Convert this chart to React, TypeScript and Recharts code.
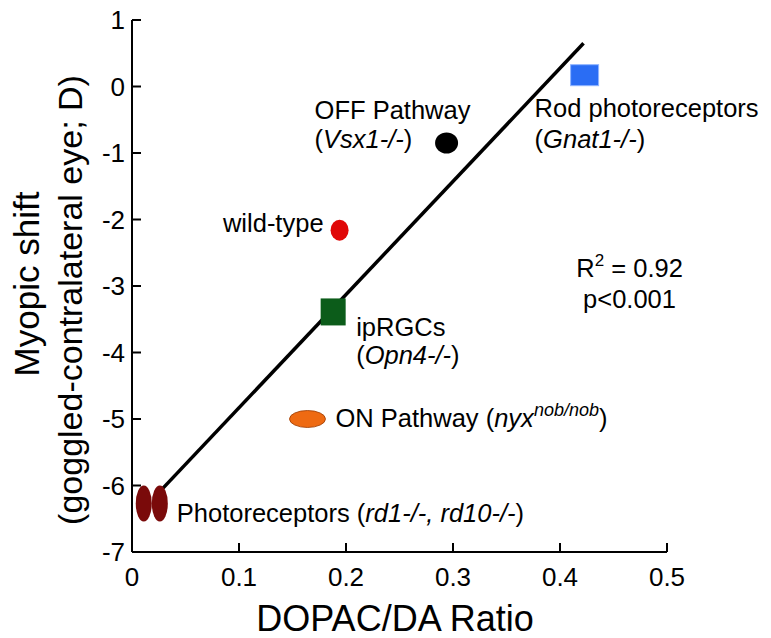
import React from "react"
import {
  ScatterChart,
  Scatter,
  XAxis,
  YAxis,
  ReferenceLine,
  ReferenceDot,
} from "recharts"

const xTicks = [0, 0.1, 0.2, 0.3, 0.4, 0.5]
const yTicks = [-7, -6, -5, -4, -3, -2, -1, 0, 1]

const rodPoints = [{ x: 0.423, y: 0.17 }]
const offPoints = [{ x: 0.294, y: -0.85 }]
const wildTypePoints = [{ x: 0.194, y: -2.16 }]
const iprgcPoints = [{ x: 0.188, y: -3.39 }]
const onPoints = [{ x: 0.164, y: -5.0 }]
const photoreceptorPoints = [
  { x: 0.011, y: -6.27 },
  { x: 0.026, y: -6.27 },
]
const fitLine = [
  { x: 0.029, y: -6.04 },
  { x: 0.422, y: 0.65 },
]
const statsAt = { x: 0.465, y: -2.95 }

const FONT = "'Liberation Sans', Arial, Helvetica, sans-serif"
const LABEL_SIZE = 25.5
const TICK_SIZE = 26

function XTick({ x, y, payload }: any) {
  return (
    <g>
      <line x1={x} y1={y} x2={x} y2={y - 9} stroke="#000" strokeWidth={2} />
      <text x={x} y={y + 34} textAnchor="middle" fontSize={TICK_SIZE} fontFamily={FONT} fill="#000">
        {payload.value}
      </text>
    </g>
  )
}

function YTick({ x, y, payload }: any) {
  return (
    <g>
      <line x1={x} y1={y} x2={x + 9} y2={y} stroke="#000" strokeWidth={2} />
      <text x={x - 7} y={y + 9} textAnchor="end" fontSize={TICK_SIZE} fontFamily={FONT} fill="#000">
        {payload.value}
      </text>
    </g>
  )
}

const txt = (x: number, y: number, children: React.ReactNode, anchor = "start") => (
  <text x={x} y={y} fontSize={LABEL_SIZE} fontFamily={FONT} fill="#000" textAnchor={anchor}>
    {children}
  </text>
)

function RodShape({ cx, cy }: any) {
  return (
    <g>
      <rect x={cx - 14} y={cy - 10.5} width={28} height={21} fill="#2a6df4" stroke="#8fb4ff" strokeWidth={1} />
      {txt(cx - 50, cy + 42, "Rod photoreceptors")}
      {txt(cx - 50, cy + 73, <>(<tspan fontStyle="italic">Gnat1-/-</tspan>)</>)}
    </g>
  )
}

function OffShape({ cx, cy }: any) {
  return (
    <g>
      <ellipse cx={cx} cy={cy} rx={11.5} ry={10.5} fill="#000" />
      {txt(cx - 132, cy - 24, "OFF Pathway")}
      {txt(cx - 132, cy + 5, <>(<tspan fontStyle="italic">Vsx1-/-</tspan>)</>)}
    </g>
  )
}

function WildTypeShape({ cx, cy }: any) {
  return (
    <g>
      <ellipse cx={cx} cy={cy} rx={9} ry={10.5} fill="#e00808" />
      {txt(cx - 16, cy + 2, "wild-type", "end")}
    </g>
  )
}

function IprgcShape({ cx, cy }: any) {
  return (
    <g>
      <rect x={cx - 12.5} y={cy - 13.5} width={25} height={27} fill="#0c5c1a" />
      {txt(cx + 23, cy + 24, "ipRGCs")}
      {txt(cx + 23, cy + 52, <>(<tspan fontStyle="italic">Opn4-/-</tspan>)</>)}
    </g>
  )
}

function OnShape({ cx, cy }: any) {
  return (
    <g>
      <ellipse cx={cx} cy={cy} rx={18} ry={8.5} fill="#ee6a12" stroke="#9a3a00" strokeWidth={0.8} />
      {txt(
        cx + 28,
        cy + 8,
        <>
          ON Pathway (<tspan fontStyle="italic">nyx</tspan>
          <tspan fontStyle="italic" fontSize={18} dy={-11}>nob/nob</tspan>
          <tspan dy={11}>)</tspan>
        </>
      )}
    </g>
  )
}

function PhotoreceptorShape({ cx, cy, index }: any) {
  return (
    <g>
      <ellipse cx={cx} cy={cy} rx={8} ry={18} fill="#7a0a0a" />
      {index === photoreceptorPoints.length - 1 &&
        txt(
          cx + 17,
          cy + 19,
          <>
            Photoreceptors (<tspan fontStyle="italic">rd1-/-, rd10-/-</tspan>)
          </>
        )}
    </g>
  )
}

function StatsLabel({ cx, cy }: any) {
  return (
    <g>
      <text x={cx} y={cy - 6} fontSize={LABEL_SIZE} fontFamily={FONT} textAnchor="middle" fill="#000">
        R<tspan fontSize={17} dy={-11}>2</tspan>
        <tspan dy={11}> = 0.92</tspan>
      </text>
      <text x={cx} y={cy + 25} fontSize={LABEL_SIZE} fontFamily={FONT} textAnchor="middle" fill="#000">
        p&lt;0.001
      </text>
    </g>
  )
}

const xTitle = () => (
  <text x={395} y={631} textAnchor="middle" fontSize={36} fontFamily={FONT} fill="#000">
    DOPAC/DA Ratio
  </text>
)

const yTitle = () => (
  <g>
    <text x={39} y={284} transform="rotate(-90, 39, 284)" textAnchor="middle" fontSize={35} fontFamily={FONT} fill="#000">
      Myopic shift
    </text>
    <text x={82} y={300} transform="rotate(-90, 82, 300)" textAnchor="middle" fontSize={34} fontFamily={FONT} fill="#000">
      (goggled-contralateral eye; D)
    </text>
  </g>
)

export default function App() {
  return (
    <div style={{ position: "absolute", left: 0, top: 0, width: 771, height: 638, background: "#fff" }}>
      <ScatterChart width={771} height={638} margin={{ top: 20, right: 104, bottom: 0, left: 0 }}>
        <XAxis
          type="number"
          dataKey="x"
          domain={[0, 0.5]}
          ticks={xTicks}
          interval={0}
          height={86}
          tickSize={0}
          tickMargin={0}
          tickLine={false}
          tick={<XTick />}
          axisLine={{ stroke: "#000", strokeWidth: 2 }}
          label={xTitle}
        />
        <YAxis
          type="number"
          dataKey="y"
          domain={[-7, 1]}
          ticks={yTicks}
          interval={0}
          width={132}
          tickSize={0}
          tickMargin={0}
          tickLine={false}
          tick={<YTick />}
          axisLine={{ stroke: "#000", strokeWidth: 2 }}
          label={yTitle}
        />
        <ReferenceLine segment={fitLine} stroke="#000" strokeWidth={3.5} ifOverflow="visible" />
        <Scatter data={rodPoints} shape={<RodShape />} isAnimationActive={false} />
        <Scatter data={offPoints} shape={<OffShape />} isAnimationActive={false} />
        <Scatter data={wildTypePoints} shape={<WildTypeShape />} isAnimationActive={false} />
        <Scatter data={iprgcPoints} shape={<IprgcShape />} isAnimationActive={false} />
        <Scatter data={onPoints} shape={<OnShape />} isAnimationActive={false} />
        <Scatter data={photoreceptorPoints} shape={<PhotoreceptorShape />} isAnimationActive={false} />
        <ReferenceDot x={statsAt.x} y={statsAt.y} r={0} ifOverflow="visible" shape={<StatsLabel />} />
      </ScatterChart>
    </div>
  )
}
